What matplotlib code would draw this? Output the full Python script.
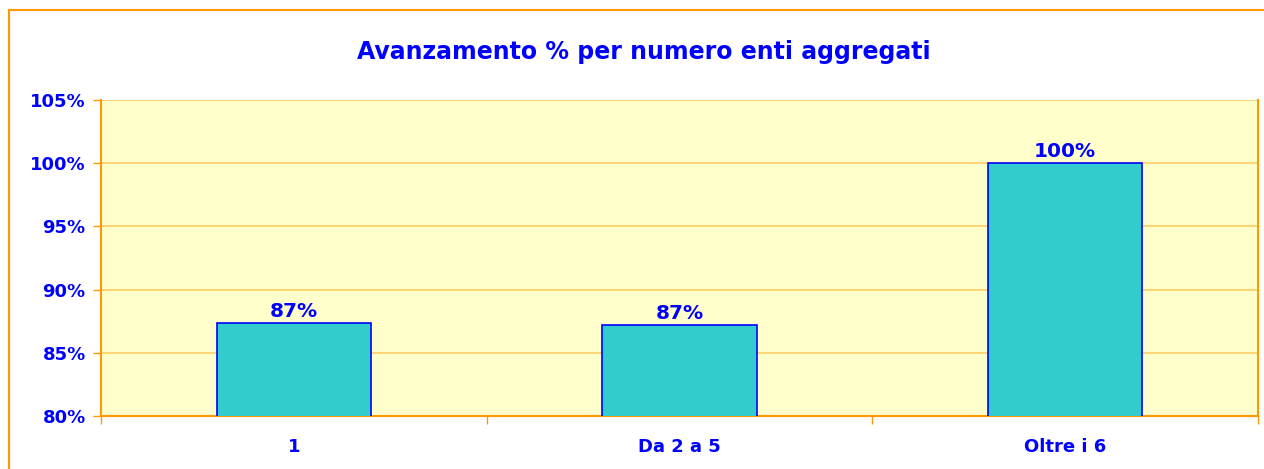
import matplotlib
matplotlib.use("Agg")
import matplotlib.pyplot as plt
from matplotlib.patches import Rectangle
from matplotlib.ticker import FixedLocator

categories = ["1", "Da 2 a 5", "Oltre i 6"]
values = [87.36, 87.22, 100.0]
value_labels = ["87%", "87%", "100%"]
yticks = [80, 85, 90, 95, 100, 105]
title = "Avanzamento % per numero enti aggregati"

BLUE = "#0000FF"
ORANGE = "#FF9900"
GRID = "#FFCC66"
BG = "#FFFFCC"
BAR = "#33CCCC"

plt.rcParams['font.family'] = ['DejaVu Sans']
W, H = 1264, 469
fig = plt.figure(figsize=(W/100, H/100), dpi=100)

# outer frame
fig.patches.append(Rectangle((8.5/W, -0.1), 1.2, 1 - 10.5/H + 0.1, transform=fig.transFigure,
                             fill=False, edgecolor=ORANGE, linewidth=1.5, zorder=0))

ax = fig.add_axes([101/W, 1 - 416/H, (1258-101)/W, (416-100)/H])
ax.set_facecolor(BG)
x = list(range(len(categories)))
bars = ax.bar(x, values, width=0.4, bottom=0, color=BAR, edgecolor=BLUE, linewidth=1.2, zorder=3)
ax.set_ylim(80, 105)
ax.set_xlim(-0.5, len(categories) - 0.5)
ax.set_yticks(yticks)
ax.set_yticklabels([f"{t}%" for t in yticks])
ax.yaxis.grid(True, color=GRID, linewidth=1.2, zorder=1)
ax.set_axisbelow(True)

ax.set_xticks(x)
ax.set_xticklabels(categories)
ax.xaxis.set_minor_locator(FixedLocator([i - 0.5 for i in range(len(categories) + 1)]))
ax.tick_params(axis='x', which='major', length=0, pad=16)
ax.tick_params(axis='x', which='minor', length=6, color=ORANGE, width=1)
ax.tick_params(axis='y', length=6, color=ORANGE, width=1, pad=5)
for lab in ax.get_xticklabels():
    lab.set_color(BLUE)
    lab.set_fontweight('bold')
    lab.set_fontsize(13)
for lab in ax.get_yticklabels():
    lab.set_color(BLUE)
    lab.set_fontweight('bold')
    lab.set_fontsize(13)

for sp in ax.spines.values():
    sp.set_color(ORANGE)
    sp.set_linewidth(1.5)
ax.spines['top'].set_visible(False)

for xi, v, lbl in zip(x, values, value_labels):
    ax.annotate(lbl, (xi, v), xytext=(0, 1.5), textcoords='offset points',
                ha='center', va='bottom', color=BLUE, fontweight='bold', fontsize=14.5, zorder=4)

fig.text((357+930)/2/W, 1 - 52/H, title, ha='center', va='center', color=BLUE,
         fontweight='bold', fontsize=17)

fig.savefig("out.png", dpi=100)
